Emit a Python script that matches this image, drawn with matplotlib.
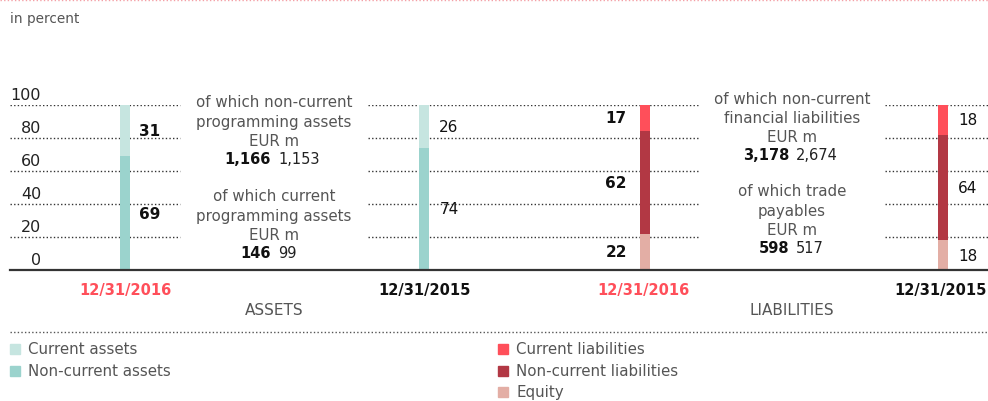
"""Balance-sheet structure: assets vs liabilities, 2016 against 2015, in percent."""

import matplotlib

matplotlib.use("Agg")
import matplotlib.pyplot as plt  # noqa: E402
from matplotlib.patches import Rectangle  # noqa: E402

# --- data -------------------------------------------------------------------
dates = ["12/31/2016", "12/31/2015", "12/31/2016", "12/31/2015"]
current_year = [True, False, True, False]

asset_labels = ["Non-current assets", "Current assets"]
assets_2016 = [69, 31]
assets_2015 = [74, 26]

liab_labels = ["Equity", "Non-current liabilities", "Current liabilities"]
liab_2016 = [22, 62, 17]
liab_2015 = [18, 64, 18]

yticks = [0, 20, 40, 60, 80, 100]

asset_notes = [
    (["of which non-current", "programming assets", "EUR m"], "1,166", "1,153"),
    (["of which current", "programming assets", "EUR m"], "146", "99"),
]
liab_notes = [
    (["of which non-current", "financial liabilities", "EUR m"], "3,178", "2,674"),
    (["of which trade", "payables", "EUR m"], "598", "517"),
]

# --- style ------------------------------------------------------------------
C_ASSET = ["#9bd3cd", "#c6e5e0"]
C_LIAB = ["#e3aea5", "#b23844", "#ff4f5a"]
RED = "#ff4f5a"
GREY = "#555555"
DOT = (0, (1, 1.6))

plt.rcParams["font.family"] = ["DejaVu Sans"]

W, H = 988, 402
fig = plt.figure(figsize=(W / 100, H / 100), dpi=100)

# axes in pixel-like x units, 0..100 percent on y
y0_px, y100_px = 271, 106
ax = fig.add_axes([0, (H - y0_px) / H, 1, (y0_px - y100_px) / H])
ax.set_xlim(0, W)
ax.set_ylim(0, 100)
ax.axis("off")
px = 100 / (y0_px - y100_px)  # percent units per pixel

bar_x = [125, 424, 645, 943]
bar_w = 10
stacks = [(assets_2016, C_ASSET), (assets_2015, C_ASSET),
          (liab_2016, C_LIAB), (liab_2015, C_LIAB)]
label_dx = [25, 25, -29, 25]
date_dx = [0, 0, -2, -3]

# broken dotted gridlines (gaps leave room for the notes)
grid_segments = [(10, 180), (368, 700), (885, W)]
for yv in yticks[1:]:
    for a, b in grid_segments:
        ax.plot([a, b], [yv, yv], color="#333333", lw=1.0, ls=DOT,
                solid_capstyle="butt", zorder=1)
for yv in yticks:
    ax.text(41, yv + 6.5, str(yv), ha="right", va="center", fontsize=11.5,
            color="#222222")

ax.plot([10, W], [0, 0], color="#333333", lw=1.6, zorder=3, clip_on=False)

# stacked bars with segment labels
for i, ((vals, cols), x) in enumerate(zip(stacks, bar_x)):
    bottom = 0
    bold = current_year[i]
    for v, c in zip(vals, cols):
        ax.bar(x, v, bottom=bottom, width=bar_w, color=c, zorder=2)
        ax.text(x + label_dx[i], bottom + v / 2, str(v), ha="center", va="center",
                fontsize=11, fontweight="bold" if bold else "normal",
                color="#111111")
        bottom += v
    ax.text(x + date_dx[i], -20 * px, dates[i], ha="center", va="center",
            fontsize=10.5, fontweight="bold", color=RED if bold else "#111111",
            clip_on=False)


def notes(xc, items, first_px):
    step = 19.3
    for (lines, cur, prev), top in zip(items, first_px):
        for k, line in enumerate(lines):
            ax.text(xc, (y0_px - top - k * step) * px, line, ha="center",
                    va="center", fontsize=10.8, color=GREY)
        yn = (y0_px - top - 3 * step + 1) * px
        ax.text(xc - 3, yn, cur, ha="right", va="center", fontsize=10.5,
                fontweight="bold", color="#111111")
        ax.text(xc + 4, yn, prev, ha="left", va="center", fontsize=10.5,
                color="#222222")


notes(274, asset_notes, [103, 197])
notes(792, liab_notes, [99, 192])

ax.text(274, -40 * px, "ASSETS", ha="center", va="center", fontsize=11,
        color=GREY)
ax.text(792, -40 * px, "LIABILITIES", ha="center", va="center", fontsize=11,
        color=GREY)

# header and separators
fig.text(10 / W, 1 - 19 / H, "in percent", ha="left", va="center",
         fontsize=9.8, color=GREY)
fig.add_artist(plt.Line2D([0, 1], [1 - 1 / H, 1 - 1 / H], color="#f4a0a6",
                          lw=1, ls=DOT))
fig.add_artist(plt.Line2D([10 / W, 1], [1 - 333 / H, 1 - 333 / H],
                          color="#555555", lw=1, ls=DOT))


# legends
def legend_block(x_px, y_px, labels, colors):
    for k, (lab, col) in enumerate(zip(labels, colors)):
        yy = y_px + k * 21.5
        fig.add_artist(Rectangle((x_px / W, 1 - (yy + 5) / H), 10 / W, 10 / H,
                                 color=col, transform=fig.transFigure))
        fig.text((x_px + 18) / W, 1 - yy / H, lab, ha="left", va="center",
                 fontsize=10.8, color=GREY)


legend_block(10, 350, asset_labels[::-1], C_ASSET[::-1])
legend_block(498, 350, liab_labels[::-1], C_LIAB[::-1])

fig.savefig("out.png", dpi=100)
plt.close(fig)
